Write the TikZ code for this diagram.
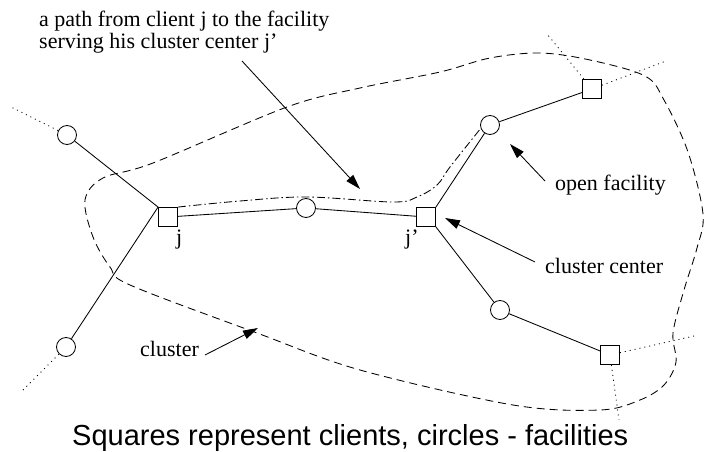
\documentclass[tikz,border=0pt]{standalone}
\usepackage{fontspec}
\setmainfont{Liberation Serif}
\newfontfamily\capfont{Liberation Sans}
\usetikzlibrary{arrows.meta}
\begin{document}
\begin{tikzpicture}[x=1pt,y=-1pt,
  client/.style={draw, rectangle, minimum size=19pt, inner sep=0pt, line width=0.85pt},
  fac/.style={draw, circle, minimum size=19pt, inner sep=0pt, line width=0.85pt},
  edge/.style={line width=0.85pt},
  dotline/.style={line width=0.85pt, dash pattern=on 1pt off 4pt},
  bound/.style={line width=0.85pt, dash pattern=on 8pt off 5pt},
  dashdot/.style={line width=0.85pt, dash pattern=on 8pt off 3pt on 1.5pt off 3pt},
  pointer/.style={line width=0.85pt, -{Triangle[length=15pt,width=9pt]}},
  lbl/.style={font=\fontsize{22}{23}\selectfont, inner sep=0pt, anchor=base west},
]
\useasboundingbox (0,0) rectangle (705,452);

% cluster boundary
\draw[bound] plot[smooth cycle, tension=0.55] coordinates {
  (360,88) (287,107) (153,163) (103,178) (85,200) (93,237) (110,267) (130,285)
  (257,333) (360,370) (513,405) (600,410) (640,400) (664,385) (676,362)
  (673,333) (684,290) (697,248) (703,214) (688,152) (664,100) (645,76) (590,60)
  (540,53) (490,58) (440,72)};

% nodes
\node[fac] (ftl) at (67,135) {};
\node[fac] (fbl) at (66,347) {};
\node[client] (j) at (168,217) {};
\node[fac] (fm) at (306,208) {};
\node[client] (jp) at (426,217) {};
\node[fac] (fur) at (490,125) {};
\node[client] (ctr) at (592,89) {};
\node[fac] (flr) at (500,310) {};
\node[client] (cbr) at (610,355) {};

% solid edges
\draw[edge] (ftl) -- (j.north west);
\draw[edge] (fbl) -- (j.north west);
\draw[edge] (j) -- (fm);
\draw[edge] (fm) -- (jp);
\draw[edge] (jp.north east) -- (fur);
\draw[edge] (fur) -- (ctr);
\draw[edge] (jp.south east) -- (flr);
\draw[edge] (flr) -- (cbr);

% dotted edges
\coordinate (d1) at (11,107);
\coordinate (d2) at (23,390);
\coordinate (d3) at (547,34);
\coordinate (d4) at (666,61);
\coordinate (d5) at (694,336);
\coordinate (d6) at (619,420);
\draw[dotline] (ftl) -- (d1);
\draw[dotline] (fbl) -- (d2);
\draw[dotline] (ctr) -- (d3);
\draw[dotline] (ctr) -- (d4);
\draw[dotline] (cbr) -- (d5);
\draw[dotline] (cbr) -- (d6);

% dash-dot path
\draw[dashdot] plot[smooth, tension=0.6] coordinates {
  (j.north east) (240,201) (307,197) (393,202) (417,197) (437,185) (450,167) (481,128)};

% labels
\node[lbl] (jl) at (176,244) {j};
\node[lbl] (jpl) at (405,244) {j'};
\node[lbl] (t1) at (39,27) {a path from client j to the facility};
\node[lbl] (t2) at (39,49) {serving his cluster center j'};
\node[lbl] (of) at (555,190) {open facility};
\node[lbl] (cc) at (545,273) {cluster center};
\node[lbl] (cl) at (140,356) {cluster};
\node[font=\capfont\fontsize{29}{30}\selectfont, anchor=base west, inner sep=0pt] (cap) at (72,445) {Squares represent clients, circles - facilities};

% pointers
\coordinate (a1s) at (242,61);  \coordinate (a1e) at (360,189);
\coordinate (a2s) at (545,181); \coordinate (a2e) at (510,144);
\coordinate (a3s) at (535,262); \coordinate (a3e) at (445,218);
\coordinate (a4s) at (205,355); \coordinate (a4e) at (258,328);
\draw[pointer] (a1s) -- (a1e);
\draw[pointer] (a2s) -- (a2e);
\draw[pointer] (a3s) -- (a3e);
\draw[pointer] (a4s) -- (a4e);
\end{tikzpicture}
\end{document}
